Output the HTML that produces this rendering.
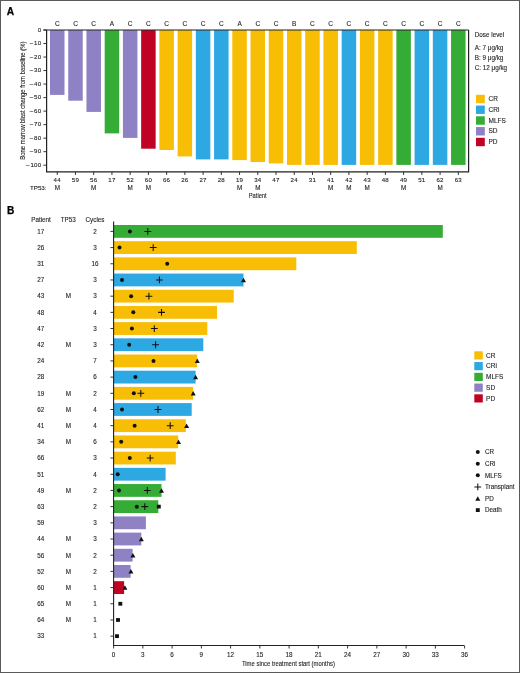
<!DOCTYPE html>
<html><head><meta charset="utf-8"><style>
html,body{margin:0;padding:0;background:#fff;}
body{width:520px;height:673px;overflow:hidden;position:relative;}
svg{display:block;position:absolute;left:0;top:0;will-change:transform;}
text{font-family:"Liberation Sans", sans-serif;stroke:#262626;stroke-width:0.12px;}
.fr{position:absolute;left:0;top:0;width:518px;height:671px;border:1px solid #5a5a5a;}
</style></head><body>
<svg width="520" height="673" viewBox="0 0 520 673">
<rect x="50.00" y="30.00" width="14.5" height="64.90" fill="#8F82C4"/>
<text x="57.25" y="26.00" font-size="6.5" text-anchor="middle" fill="#262626" >C</text>
<text x="57.25" y="182.20" font-size="6.1" text-anchor="middle" fill="#262626" letter-spacing="0.25">44</text>
<text x="57.25" y="190.10" font-size="6.3" text-anchor="middle" fill="#262626" >M</text>
<line x1="57.25" y1="171.8" x2="57.25" y2="175.0" stroke="#222" stroke-width="0.9"/>
<rect x="68.23" y="30.00" width="14.5" height="70.70" fill="#8F82C4"/>
<text x="75.48" y="26.00" font-size="6.5" text-anchor="middle" fill="#262626" >C</text>
<text x="75.48" y="182.20" font-size="6.1" text-anchor="middle" fill="#262626" letter-spacing="0.25">59</text>
<line x1="75.48" y1="171.8" x2="75.48" y2="175.0" stroke="#222" stroke-width="0.9"/>
<rect x="86.46" y="30.00" width="14.5" height="81.90" fill="#8F82C4"/>
<text x="93.71" y="26.00" font-size="6.5" text-anchor="middle" fill="#262626" >C</text>
<text x="93.71" y="182.20" font-size="6.1" text-anchor="middle" fill="#262626" letter-spacing="0.25">56</text>
<text x="93.71" y="190.10" font-size="6.3" text-anchor="middle" fill="#262626" >M</text>
<line x1="93.71" y1="171.8" x2="93.71" y2="175.0" stroke="#222" stroke-width="0.9"/>
<rect x="104.69" y="30.00" width="14.5" height="103.40" fill="#35AC35"/>
<text x="111.94" y="26.00" font-size="6.5" text-anchor="middle" fill="#262626" >A</text>
<text x="111.94" y="182.20" font-size="6.1" text-anchor="middle" fill="#262626" letter-spacing="0.25">17</text>
<line x1="111.94" y1="171.8" x2="111.94" y2="175.0" stroke="#222" stroke-width="0.9"/>
<rect x="122.92" y="30.00" width="14.5" height="107.90" fill="#8F82C4"/>
<text x="130.17" y="26.00" font-size="6.5" text-anchor="middle" fill="#262626" >C</text>
<text x="130.17" y="182.20" font-size="6.1" text-anchor="middle" fill="#262626" letter-spacing="0.25">52</text>
<text x="130.17" y="190.10" font-size="6.3" text-anchor="middle" fill="#262626" >M</text>
<line x1="130.17" y1="171.8" x2="130.17" y2="175.0" stroke="#222" stroke-width="0.9"/>
<rect x="141.15" y="30.00" width="14.5" height="118.70" fill="#C00224"/>
<text x="148.40" y="26.00" font-size="6.5" text-anchor="middle" fill="#262626" >C</text>
<text x="148.40" y="182.20" font-size="6.1" text-anchor="middle" fill="#262626" letter-spacing="0.25">60</text>
<text x="148.40" y="190.10" font-size="6.3" text-anchor="middle" fill="#262626" >M</text>
<line x1="148.40" y1="171.8" x2="148.40" y2="175.0" stroke="#222" stroke-width="0.9"/>
<rect x="159.38" y="30.00" width="14.5" height="120.00" fill="#F8BD05"/>
<text x="166.63" y="26.00" font-size="6.5" text-anchor="middle" fill="#262626" >C</text>
<text x="166.63" y="182.20" font-size="6.1" text-anchor="middle" fill="#262626" letter-spacing="0.25">66</text>
<line x1="166.63" y1="171.8" x2="166.63" y2="175.0" stroke="#222" stroke-width="0.9"/>
<rect x="177.61" y="30.00" width="14.5" height="126.40" fill="#F8BD05"/>
<text x="184.86" y="26.00" font-size="6.5" text-anchor="middle" fill="#262626" >C</text>
<text x="184.86" y="182.20" font-size="6.1" text-anchor="middle" fill="#262626" letter-spacing="0.25">26</text>
<line x1="184.86" y1="171.8" x2="184.86" y2="175.0" stroke="#222" stroke-width="0.9"/>
<rect x="195.84" y="30.00" width="14.5" height="129.40" fill="#2EA8E2"/>
<text x="203.09" y="26.00" font-size="6.5" text-anchor="middle" fill="#262626" >C</text>
<text x="203.09" y="182.20" font-size="6.1" text-anchor="middle" fill="#262626" letter-spacing="0.25">27</text>
<line x1="203.09" y1="171.8" x2="203.09" y2="175.0" stroke="#222" stroke-width="0.9"/>
<rect x="214.07" y="30.00" width="14.5" height="129.40" fill="#2EA8E2"/>
<text x="221.32" y="26.00" font-size="6.5" text-anchor="middle" fill="#262626" >C</text>
<text x="221.32" y="182.20" font-size="6.1" text-anchor="middle" fill="#262626" letter-spacing="0.25">28</text>
<line x1="221.32" y1="171.8" x2="221.32" y2="175.0" stroke="#222" stroke-width="0.9"/>
<rect x="232.30" y="30.00" width="14.5" height="130.10" fill="#F8BD05"/>
<text x="239.55" y="26.00" font-size="6.5" text-anchor="middle" fill="#262626" >A</text>
<text x="239.55" y="182.20" font-size="6.1" text-anchor="middle" fill="#262626" letter-spacing="0.25">19</text>
<text x="239.55" y="190.10" font-size="6.3" text-anchor="middle" fill="#262626" >M</text>
<line x1="239.55" y1="171.8" x2="239.55" y2="175.0" stroke="#222" stroke-width="0.9"/>
<rect x="250.53" y="30.00" width="14.5" height="132.00" fill="#F8BD05"/>
<text x="257.78" y="26.00" font-size="6.5" text-anchor="middle" fill="#262626" >C</text>
<text x="257.78" y="182.20" font-size="6.1" text-anchor="middle" fill="#262626" letter-spacing="0.25">34</text>
<text x="257.78" y="190.10" font-size="6.3" text-anchor="middle" fill="#262626" >M</text>
<line x1="257.78" y1="171.8" x2="257.78" y2="175.0" stroke="#222" stroke-width="0.9"/>
<rect x="268.76" y="30.00" width="14.5" height="133.40" fill="#F8BD05"/>
<text x="276.01" y="26.00" font-size="6.5" text-anchor="middle" fill="#262626" >C</text>
<text x="276.01" y="182.20" font-size="6.1" text-anchor="middle" fill="#262626" letter-spacing="0.25">47</text>
<line x1="276.01" y1="171.8" x2="276.01" y2="175.0" stroke="#222" stroke-width="0.9"/>
<rect x="286.99" y="30.00" width="14.5" height="134.90" fill="#F8BD05"/>
<text x="294.24" y="26.00" font-size="6.5" text-anchor="middle" fill="#262626" >B</text>
<text x="294.24" y="182.20" font-size="6.1" text-anchor="middle" fill="#262626" letter-spacing="0.25">24</text>
<line x1="294.24" y1="171.8" x2="294.24" y2="175.0" stroke="#222" stroke-width="0.9"/>
<rect x="305.22" y="30.00" width="14.5" height="134.90" fill="#F8BD05"/>
<text x="312.47" y="26.00" font-size="6.5" text-anchor="middle" fill="#262626" >C</text>
<text x="312.47" y="182.20" font-size="6.1" text-anchor="middle" fill="#262626" letter-spacing="0.25">31</text>
<line x1="312.47" y1="171.8" x2="312.47" y2="175.0" stroke="#222" stroke-width="0.9"/>
<rect x="323.45" y="30.00" width="14.5" height="134.90" fill="#F8BD05"/>
<text x="330.70" y="26.00" font-size="6.5" text-anchor="middle" fill="#262626" >C</text>
<text x="330.70" y="182.20" font-size="6.1" text-anchor="middle" fill="#262626" letter-spacing="0.25">41</text>
<text x="330.70" y="190.10" font-size="6.3" text-anchor="middle" fill="#262626" >M</text>
<line x1="330.70" y1="171.8" x2="330.70" y2="175.0" stroke="#222" stroke-width="0.9"/>
<rect x="341.68" y="30.00" width="14.5" height="134.90" fill="#2EA8E2"/>
<text x="348.93" y="26.00" font-size="6.5" text-anchor="middle" fill="#262626" >C</text>
<text x="348.93" y="182.20" font-size="6.1" text-anchor="middle" fill="#262626" letter-spacing="0.25">42</text>
<text x="348.93" y="190.10" font-size="6.3" text-anchor="middle" fill="#262626" >M</text>
<line x1="348.93" y1="171.8" x2="348.93" y2="175.0" stroke="#222" stroke-width="0.9"/>
<rect x="359.91" y="30.00" width="14.5" height="134.90" fill="#F8BD05"/>
<text x="367.16" y="26.00" font-size="6.5" text-anchor="middle" fill="#262626" >C</text>
<text x="367.16" y="182.20" font-size="6.1" text-anchor="middle" fill="#262626" letter-spacing="0.25">43</text>
<text x="367.16" y="190.10" font-size="6.3" text-anchor="middle" fill="#262626" >M</text>
<line x1="367.16" y1="171.8" x2="367.16" y2="175.0" stroke="#222" stroke-width="0.9"/>
<rect x="378.14" y="30.00" width="14.5" height="134.90" fill="#F8BD05"/>
<text x="385.39" y="26.00" font-size="6.5" text-anchor="middle" fill="#262626" >C</text>
<text x="385.39" y="182.20" font-size="6.1" text-anchor="middle" fill="#262626" letter-spacing="0.25">48</text>
<line x1="385.39" y1="171.8" x2="385.39" y2="175.0" stroke="#222" stroke-width="0.9"/>
<rect x="396.37" y="30.00" width="14.5" height="134.90" fill="#35AC35"/>
<text x="403.62" y="26.00" font-size="6.5" text-anchor="middle" fill="#262626" >C</text>
<text x="403.62" y="182.20" font-size="6.1" text-anchor="middle" fill="#262626" letter-spacing="0.25">49</text>
<text x="403.62" y="190.10" font-size="6.3" text-anchor="middle" fill="#262626" >M</text>
<line x1="403.62" y1="171.8" x2="403.62" y2="175.0" stroke="#222" stroke-width="0.9"/>
<rect x="414.60" y="30.00" width="14.5" height="134.90" fill="#2EA8E2"/>
<text x="421.85" y="26.00" font-size="6.5" text-anchor="middle" fill="#262626" >C</text>
<text x="421.85" y="182.20" font-size="6.1" text-anchor="middle" fill="#262626" letter-spacing="0.25">51</text>
<line x1="421.85" y1="171.8" x2="421.85" y2="175.0" stroke="#222" stroke-width="0.9"/>
<rect x="432.83" y="30.00" width="14.5" height="134.90" fill="#2EA8E2"/>
<text x="440.08" y="26.00" font-size="6.5" text-anchor="middle" fill="#262626" >C</text>
<text x="440.08" y="182.20" font-size="6.1" text-anchor="middle" fill="#262626" letter-spacing="0.25">62</text>
<text x="440.08" y="190.10" font-size="6.3" text-anchor="middle" fill="#262626" >M</text>
<line x1="440.08" y1="171.8" x2="440.08" y2="175.0" stroke="#222" stroke-width="0.9"/>
<rect x="451.06" y="30.00" width="14.5" height="134.90" fill="#35AC35"/>
<text x="458.31" y="26.00" font-size="6.5" text-anchor="middle" fill="#262626" >C</text>
<text x="458.31" y="182.20" font-size="6.1" text-anchor="middle" fill="#262626" letter-spacing="0.25">63</text>
<line x1="458.31" y1="171.8" x2="458.31" y2="175.0" stroke="#222" stroke-width="0.9"/>
<line x1="43.4" y1="30.0" x2="468.6" y2="30.0" stroke="#222" stroke-width="1.2"/>
<polyline points="46.6,30.0 46.6,171.8 468.6,171.8 468.6,30.0" fill="none" stroke="#222" stroke-width="1.2"/>
<line x1="43.40" y1="30.00" x2="46.6" y2="30.00" stroke="#222" stroke-width="0.9"/>
<text x="41.30" y="31.70" font-size="6.1" text-anchor="end" fill="#262626" letter-spacing="0.25">0</text>
<line x1="43.40" y1="43.52" x2="46.6" y2="43.52" stroke="#222" stroke-width="0.9"/>
<text x="41.30" y="45.22" font-size="6.1" text-anchor="end" fill="#262626" letter-spacing="0.25">–<tspan dx="0.7">10</tspan></text>
<line x1="43.40" y1="57.04" x2="46.6" y2="57.04" stroke="#222" stroke-width="0.9"/>
<text x="41.30" y="58.74" font-size="6.1" text-anchor="end" fill="#262626" letter-spacing="0.25">–<tspan dx="0.7">20</tspan></text>
<line x1="43.40" y1="70.56" x2="46.6" y2="70.56" stroke="#222" stroke-width="0.9"/>
<text x="41.30" y="72.26" font-size="6.1" text-anchor="end" fill="#262626" letter-spacing="0.25">–<tspan dx="0.7">30</tspan></text>
<line x1="43.40" y1="84.08" x2="46.6" y2="84.08" stroke="#222" stroke-width="0.9"/>
<text x="41.30" y="85.78" font-size="6.1" text-anchor="end" fill="#262626" letter-spacing="0.25">–<tspan dx="0.7">40</tspan></text>
<line x1="43.40" y1="97.60" x2="46.6" y2="97.60" stroke="#222" stroke-width="0.9"/>
<text x="41.30" y="99.30" font-size="6.1" text-anchor="end" fill="#262626" letter-spacing="0.25">–<tspan dx="0.7">50</tspan></text>
<line x1="43.40" y1="111.12" x2="46.6" y2="111.12" stroke="#222" stroke-width="0.9"/>
<text x="41.30" y="112.82" font-size="6.1" text-anchor="end" fill="#262626" letter-spacing="0.25">–<tspan dx="0.7">60</tspan></text>
<line x1="43.40" y1="124.64" x2="46.6" y2="124.64" stroke="#222" stroke-width="0.9"/>
<text x="41.30" y="126.34" font-size="6.1" text-anchor="end" fill="#262626" letter-spacing="0.25">–<tspan dx="0.7">70</tspan></text>
<line x1="43.40" y1="138.16" x2="46.6" y2="138.16" stroke="#222" stroke-width="0.9"/>
<text x="41.30" y="139.86" font-size="6.1" text-anchor="end" fill="#262626" letter-spacing="0.25">–<tspan dx="0.7">80</tspan></text>
<line x1="43.40" y1="151.68" x2="46.6" y2="151.68" stroke="#222" stroke-width="0.9"/>
<text x="41.30" y="153.38" font-size="6.1" text-anchor="end" fill="#262626" letter-spacing="0.25">–<tspan dx="0.7">90</tspan></text>
<line x1="43.40" y1="165.20" x2="46.6" y2="165.20" stroke="#222" stroke-width="0.9"/>
<text x="41.30" y="166.90" font-size="6.1" text-anchor="end" fill="#262626" letter-spacing="0.25">–<tspan dx="0.7">100</tspan></text>
<text transform="translate(24.6,100.6) rotate(-90) scale(0.74,1)" font-size="8" text-anchor="middle" fill="#262626">Bone marrow blast change from baseline (%)</text>
<text x="46.50" y="190.20" font-size="6.2" text-anchor="end" fill="#262626" >TP53:</text>
<text transform="translate(257.7,198.3) scale(0.78,1)" font-size="7.4" text-anchor="middle" fill="#262626">Patient</text>
<text x="474.80" y="36.70" font-size="6.3" text-anchor="start" fill="#262626" >Dose level</text>
<text x="474.80" y="49.50" font-size="6.3" text-anchor="start" fill="#262626" >A: 7 μg/kg</text>
<text x="474.80" y="59.50" font-size="6.3" text-anchor="start" fill="#262626" >B: 9 μg/kg</text>
<text x="474.80" y="69.50" font-size="6.3" text-anchor="start" fill="#262626" >C: 12 μg/kg</text>
<rect x="476" y="94.80" width="8.8" height="8.4" fill="#F8BD05"/>
<text x="488.50" y="101.20" font-size="6.5" text-anchor="start" fill="#262626" >CR</text>
<rect x="476" y="105.55" width="8.8" height="8.4" fill="#2EA8E2"/>
<text x="488.50" y="111.95" font-size="6.5" text-anchor="start" fill="#262626" >CRi</text>
<rect x="476" y="116.30" width="8.8" height="8.4" fill="#35AC35"/>
<text x="488.50" y="122.70" font-size="6.5" text-anchor="start" fill="#262626" >MLFS</text>
<rect x="476" y="127.05" width="8.8" height="8.4" fill="#8F82C4"/>
<text x="488.50" y="133.45" font-size="6.5" text-anchor="start" fill="#262626" >SD</text>
<rect x="476" y="137.80" width="8.8" height="8.4" fill="#C00224"/>
<text x="488.50" y="144.20" font-size="6.5" text-anchor="start" fill="#262626" >PD</text>
<text x="6.7" y="14.5" font-size="10.2" font-weight="bold" style="fill:#000;stroke:#000;stroke-width:0.25px">A</text>
<text x="6.9" y="214.3" font-size="10.2" font-weight="bold" style="fill:#000;stroke:#000;stroke-width:0.25px">B</text>
<rect x="113.60" y="225.00" width="329.20" height="12.8" fill="#35AC35"/>
<circle cx="129.90" cy="231.40" r="2.0" fill="#111"/>
<path d="M144.40 231.40H151.20M147.80 228.00V234.80" stroke="#111" stroke-width="1.05" fill="none"/>
<text x="40.80" y="233.70" font-size="6.3" text-anchor="middle" fill="#262626" >17</text>
<text x="95.00" y="233.70" font-size="6.3" text-anchor="middle" fill="#262626" >2</text>
<line x1="110.40" y1="231.40" x2="113.6" y2="231.40" stroke="#222" stroke-width="0.9"/>
<rect x="113.60" y="241.19" width="243.20" height="12.8" fill="#F8BD05"/>
<circle cx="119.50" cy="247.59" r="2.0" fill="#111"/>
<path d="M149.80 247.59H156.60M153.20 244.19V250.99" stroke="#111" stroke-width="1.05" fill="none"/>
<text x="40.80" y="249.89" font-size="6.3" text-anchor="middle" fill="#262626" >26</text>
<text x="95.00" y="249.89" font-size="6.3" text-anchor="middle" fill="#262626" >3</text>
<line x1="110.40" y1="247.59" x2="113.6" y2="247.59" stroke="#222" stroke-width="0.9"/>
<rect x="113.60" y="257.38" width="182.70" height="12.8" fill="#F8BD05"/>
<circle cx="167.20" cy="263.78" r="2.0" fill="#111"/>
<text x="40.80" y="266.08" font-size="6.3" text-anchor="middle" fill="#262626" >31</text>
<text x="95.00" y="266.08" font-size="6.3" text-anchor="middle" fill="#262626" >16</text>
<line x1="110.40" y1="263.78" x2="113.6" y2="263.78" stroke="#222" stroke-width="0.9"/>
<rect x="113.60" y="273.57" width="129.90" height="12.8" fill="#2EA8E2"/>
<circle cx="122.00" cy="279.97" r="2.0" fill="#111"/>
<path d="M156.00 279.97H162.80M159.40 276.57V283.37" stroke="#111" stroke-width="1.05" fill="none"/>
<path d="M241.00 282.17L243.50 277.67L246.00 282.17Z" fill="#111"/>
<text x="40.80" y="282.27" font-size="6.3" text-anchor="middle" fill="#262626" >27</text>
<text x="95.00" y="282.27" font-size="6.3" text-anchor="middle" fill="#262626" >3</text>
<line x1="110.40" y1="279.97" x2="113.6" y2="279.97" stroke="#222" stroke-width="0.9"/>
<rect x="113.60" y="289.76" width="120.10" height="12.8" fill="#F8BD05"/>
<circle cx="131.10" cy="296.16" r="2.0" fill="#111"/>
<path d="M145.50 296.16H152.30M148.90 292.76V299.56" stroke="#111" stroke-width="1.05" fill="none"/>
<text x="40.80" y="298.46" font-size="6.3" text-anchor="middle" fill="#262626" >43</text>
<text x="68.40" y="298.46" font-size="6.3" text-anchor="middle" fill="#262626" >M</text>
<text x="95.00" y="298.46" font-size="6.3" text-anchor="middle" fill="#262626" >3</text>
<line x1="110.40" y1="296.16" x2="113.6" y2="296.16" stroke="#222" stroke-width="0.9"/>
<rect x="113.60" y="305.95" width="103.40" height="12.8" fill="#F8BD05"/>
<circle cx="133.30" cy="312.35" r="2.0" fill="#111"/>
<path d="M158.10 312.35H164.90M161.50 308.95V315.75" stroke="#111" stroke-width="1.05" fill="none"/>
<text x="40.80" y="314.65" font-size="6.3" text-anchor="middle" fill="#262626" >48</text>
<text x="95.00" y="314.65" font-size="6.3" text-anchor="middle" fill="#262626" >4</text>
<line x1="110.40" y1="312.35" x2="113.6" y2="312.35" stroke="#222" stroke-width="0.9"/>
<rect x="113.60" y="322.14" width="93.70" height="12.8" fill="#F8BD05"/>
<circle cx="131.90" cy="328.54" r="2.0" fill="#111"/>
<path d="M150.90 328.54H157.70M154.30 325.14V331.94" stroke="#111" stroke-width="1.05" fill="none"/>
<text x="40.80" y="330.84" font-size="6.3" text-anchor="middle" fill="#262626" >47</text>
<text x="95.00" y="330.84" font-size="6.3" text-anchor="middle" fill="#262626" >3</text>
<line x1="110.40" y1="328.54" x2="113.6" y2="328.54" stroke="#222" stroke-width="0.9"/>
<rect x="113.60" y="338.33" width="89.70" height="12.8" fill="#2EA8E2"/>
<circle cx="129.20" cy="344.73" r="2.0" fill="#111"/>
<path d="M152.20 344.73H159.00M155.60 341.33V348.13" stroke="#111" stroke-width="1.05" fill="none"/>
<text x="40.80" y="347.03" font-size="6.3" text-anchor="middle" fill="#262626" >42</text>
<text x="68.40" y="347.03" font-size="6.3" text-anchor="middle" fill="#262626" >M</text>
<text x="95.00" y="347.03" font-size="6.3" text-anchor="middle" fill="#262626" >3</text>
<line x1="110.40" y1="344.73" x2="113.6" y2="344.73" stroke="#222" stroke-width="0.9"/>
<rect x="113.60" y="354.52" width="83.50" height="12.8" fill="#F8BD05"/>
<circle cx="153.50" cy="360.92" r="2.0" fill="#111"/>
<path d="M194.80 363.12L197.30 358.62L199.80 363.12Z" fill="#111"/>
<text x="40.80" y="363.22" font-size="6.3" text-anchor="middle" fill="#262626" >24</text>
<text x="95.00" y="363.22" font-size="6.3" text-anchor="middle" fill="#262626" >7</text>
<line x1="110.40" y1="360.92" x2="113.6" y2="360.92" stroke="#222" stroke-width="0.9"/>
<rect x="113.60" y="370.71" width="82.00" height="12.8" fill="#2EA8E2"/>
<circle cx="135.40" cy="377.11" r="2.0" fill="#111"/>
<path d="M193.10 379.31L195.60 374.81L198.10 379.31Z" fill="#111"/>
<text x="40.80" y="379.41" font-size="6.3" text-anchor="middle" fill="#262626" >28</text>
<text x="95.00" y="379.41" font-size="6.3" text-anchor="middle" fill="#262626" >6</text>
<line x1="110.40" y1="377.11" x2="113.6" y2="377.11" stroke="#222" stroke-width="0.9"/>
<rect x="113.60" y="386.90" width="79.40" height="12.8" fill="#F8BD05"/>
<circle cx="133.80" cy="393.30" r="2.0" fill="#111"/>
<path d="M137.40 393.30H144.20M140.80 389.90V396.70" stroke="#111" stroke-width="1.05" fill="none"/>
<path d="M190.70 395.50L193.20 391.00L195.70 395.50Z" fill="#111"/>
<text x="40.80" y="395.60" font-size="6.3" text-anchor="middle" fill="#262626" >19</text>
<text x="68.40" y="395.60" font-size="6.3" text-anchor="middle" fill="#262626" >M</text>
<text x="95.00" y="395.60" font-size="6.3" text-anchor="middle" fill="#262626" >2</text>
<line x1="110.40" y1="393.30" x2="113.6" y2="393.30" stroke="#222" stroke-width="0.9"/>
<rect x="113.60" y="403.09" width="78.10" height="12.8" fill="#2EA8E2"/>
<circle cx="122.00" cy="409.49" r="2.0" fill="#111"/>
<path d="M154.60 409.49H161.40M158.00 406.09V412.89" stroke="#111" stroke-width="1.05" fill="none"/>
<text x="40.80" y="411.79" font-size="6.3" text-anchor="middle" fill="#262626" >62</text>
<text x="68.40" y="411.79" font-size="6.3" text-anchor="middle" fill="#262626" >M</text>
<text x="95.00" y="411.79" font-size="6.3" text-anchor="middle" fill="#262626" >4</text>
<line x1="110.40" y1="409.49" x2="113.6" y2="409.49" stroke="#222" stroke-width="0.9"/>
<rect x="113.60" y="419.28" width="72.20" height="12.8" fill="#F8BD05"/>
<circle cx="134.60" cy="425.68" r="2.0" fill="#111"/>
<path d="M166.80 425.68H173.60M170.20 422.28V429.08" stroke="#111" stroke-width="1.05" fill="none"/>
<path d="M184.10 427.88L186.60 423.38L189.10 427.88Z" fill="#111"/>
<text x="40.80" y="427.98" font-size="6.3" text-anchor="middle" fill="#262626" >41</text>
<text x="68.40" y="427.98" font-size="6.3" text-anchor="middle" fill="#262626" >M</text>
<text x="95.00" y="427.98" font-size="6.3" text-anchor="middle" fill="#262626" >4</text>
<line x1="110.40" y1="425.68" x2="113.6" y2="425.68" stroke="#222" stroke-width="0.9"/>
<rect x="113.60" y="435.47" width="64.60" height="12.8" fill="#F8BD05"/>
<circle cx="121.20" cy="441.87" r="2.0" fill="#111"/>
<path d="M176.00 444.07L178.50 439.57L181.00 444.07Z" fill="#111"/>
<text x="40.80" y="444.17" font-size="6.3" text-anchor="middle" fill="#262626" >34</text>
<text x="68.40" y="444.17" font-size="6.3" text-anchor="middle" fill="#262626" >M</text>
<text x="95.00" y="444.17" font-size="6.3" text-anchor="middle" fill="#262626" >6</text>
<line x1="110.40" y1="441.87" x2="113.6" y2="441.87" stroke="#222" stroke-width="0.9"/>
<rect x="113.60" y="451.66" width="62.20" height="12.8" fill="#F8BD05"/>
<circle cx="129.80" cy="458.06" r="2.0" fill="#111"/>
<path d="M146.80 458.06H153.60M150.20 454.66V461.46" stroke="#111" stroke-width="1.05" fill="none"/>
<text x="40.80" y="460.36" font-size="6.3" text-anchor="middle" fill="#262626" >66</text>
<text x="95.00" y="460.36" font-size="6.3" text-anchor="middle" fill="#262626" >3</text>
<line x1="110.40" y1="458.06" x2="113.6" y2="458.06" stroke="#222" stroke-width="0.9"/>
<rect x="113.60" y="467.85" width="52.00" height="12.8" fill="#2EA8E2"/>
<circle cx="117.70" cy="474.25" r="2.0" fill="#111"/>
<text x="40.80" y="476.55" font-size="6.3" text-anchor="middle" fill="#262626" >51</text>
<text x="95.00" y="476.55" font-size="6.3" text-anchor="middle" fill="#262626" >4</text>
<line x1="110.40" y1="474.25" x2="113.6" y2="474.25" stroke="#222" stroke-width="0.9"/>
<rect x="113.60" y="484.04" width="47.90" height="12.8" fill="#35AC35"/>
<circle cx="119.00" cy="490.44" r="2.0" fill="#111"/>
<path d="M143.90 490.44H150.70M147.30 487.04V493.84" stroke="#111" stroke-width="1.05" fill="none"/>
<path d="M159.00 492.64L161.50 488.14L164.00 492.64Z" fill="#111"/>
<text x="40.80" y="492.74" font-size="6.3" text-anchor="middle" fill="#262626" >49</text>
<text x="68.40" y="492.74" font-size="6.3" text-anchor="middle" fill="#262626" >M</text>
<text x="95.00" y="492.74" font-size="6.3" text-anchor="middle" fill="#262626" >2</text>
<line x1="110.40" y1="490.44" x2="113.6" y2="490.44" stroke="#222" stroke-width="0.9"/>
<rect x="113.60" y="500.23" width="44.70" height="12.8" fill="#35AC35"/>
<circle cx="136.80" cy="506.63" r="2.0" fill="#111"/>
<path d="M141.40 506.63H148.20M144.80 503.23V510.03" stroke="#111" stroke-width="1.05" fill="none"/>
<rect x="156.85" y="504.73" width="3.9" height="3.8" fill="#111"/>
<text x="40.80" y="508.93" font-size="6.3" text-anchor="middle" fill="#262626" >63</text>
<text x="95.00" y="508.93" font-size="6.3" text-anchor="middle" fill="#262626" >2</text>
<line x1="110.40" y1="506.63" x2="113.6" y2="506.63" stroke="#222" stroke-width="0.9"/>
<rect x="113.60" y="516.42" width="32.30" height="12.8" fill="#8F82C4"/>
<text x="40.80" y="525.12" font-size="6.3" text-anchor="middle" fill="#262626" >59</text>
<text x="95.00" y="525.12" font-size="6.3" text-anchor="middle" fill="#262626" >3</text>
<line x1="110.40" y1="522.82" x2="113.6" y2="522.82" stroke="#222" stroke-width="0.9"/>
<rect x="113.60" y="532.61" width="27.70" height="12.8" fill="#8F82C4"/>
<path d="M138.80 541.21L141.30 536.71L143.80 541.21Z" fill="#111"/>
<text x="40.80" y="541.31" font-size="6.3" text-anchor="middle" fill="#262626" >44</text>
<text x="68.40" y="541.31" font-size="6.3" text-anchor="middle" fill="#262626" >M</text>
<text x="95.00" y="541.31" font-size="6.3" text-anchor="middle" fill="#262626" >3</text>
<line x1="110.40" y1="539.01" x2="113.6" y2="539.01" stroke="#222" stroke-width="0.9"/>
<rect x="113.60" y="548.80" width="19.00" height="12.8" fill="#8F82C4"/>
<path d="M130.40 557.40L132.90 552.90L135.40 557.40Z" fill="#111"/>
<text x="40.80" y="557.50" font-size="6.3" text-anchor="middle" fill="#262626" >56</text>
<text x="68.40" y="557.50" font-size="6.3" text-anchor="middle" fill="#262626" >M</text>
<text x="95.00" y="557.50" font-size="6.3" text-anchor="middle" fill="#262626" >2</text>
<line x1="110.40" y1="555.20" x2="113.6" y2="555.20" stroke="#222" stroke-width="0.9"/>
<rect x="113.60" y="564.99" width="17.00" height="12.8" fill="#8F82C4"/>
<path d="M128.40 573.59L130.90 569.09L133.40 573.59Z" fill="#111"/>
<text x="40.80" y="573.69" font-size="6.3" text-anchor="middle" fill="#262626" >52</text>
<text x="68.40" y="573.69" font-size="6.3" text-anchor="middle" fill="#262626" >M</text>
<text x="95.00" y="573.69" font-size="6.3" text-anchor="middle" fill="#262626" >2</text>
<line x1="110.40" y1="571.39" x2="113.6" y2="571.39" stroke="#222" stroke-width="0.9"/>
<rect x="113.60" y="581.18" width="10.50" height="12.8" fill="#C00224"/>
<path d="M122.40 589.78L124.90 585.28L127.40 589.78Z" fill="#111"/>
<text x="40.80" y="589.88" font-size="6.3" text-anchor="middle" fill="#262626" >60</text>
<text x="68.40" y="589.88" font-size="6.3" text-anchor="middle" fill="#262626" >M</text>
<text x="95.00" y="589.88" font-size="6.3" text-anchor="middle" fill="#262626" >1</text>
<line x1="110.40" y1="587.58" x2="113.6" y2="587.58" stroke="#222" stroke-width="0.9"/>
<rect x="118.35" y="601.87" width="3.9" height="3.8" fill="#111"/>
<text x="40.80" y="606.07" font-size="6.3" text-anchor="middle" fill="#262626" >65</text>
<text x="68.40" y="606.07" font-size="6.3" text-anchor="middle" fill="#262626" >M</text>
<text x="95.00" y="606.07" font-size="6.3" text-anchor="middle" fill="#262626" >1</text>
<line x1="110.40" y1="603.77" x2="113.6" y2="603.77" stroke="#222" stroke-width="0.9"/>
<rect x="116.05" y="618.06" width="3.9" height="3.8" fill="#111"/>
<text x="40.80" y="622.26" font-size="6.3" text-anchor="middle" fill="#262626" >64</text>
<text x="68.40" y="622.26" font-size="6.3" text-anchor="middle" fill="#262626" >M</text>
<text x="95.00" y="622.26" font-size="6.3" text-anchor="middle" fill="#262626" >1</text>
<line x1="110.40" y1="619.96" x2="113.6" y2="619.96" stroke="#222" stroke-width="0.9"/>
<rect x="115.05" y="634.25" width="3.9" height="3.8" fill="#111"/>
<text x="40.80" y="638.45" font-size="6.3" text-anchor="middle" fill="#262626" >33</text>
<text x="95.00" y="638.45" font-size="6.3" text-anchor="middle" fill="#262626" >1</text>
<line x1="110.40" y1="636.15" x2="113.6" y2="636.15" stroke="#222" stroke-width="0.9"/>
<text x="41.00" y="221.90" font-size="6.3" text-anchor="middle" fill="#262626" >Patient</text>
<text x="68.30" y="221.90" font-size="6.3" text-anchor="middle" fill="#262626" >TP53</text>
<text x="95.00" y="221.90" font-size="6.3" text-anchor="middle" fill="#262626" >Cycles</text>
<polyline points="113.6,221.4 113.6,645.5 464.3,645.5" fill="none" stroke="#222" stroke-width="1.1"/>
<line x1="113.60" y1="645.5" x2="113.60" y2="648.5" stroke="#222" stroke-width="0.9"/>
<text x="113.60" y="656.50" font-size="6.3" text-anchor="middle" fill="#262626" >0</text>
<line x1="142.85" y1="645.5" x2="142.85" y2="648.5" stroke="#222" stroke-width="0.9"/>
<text x="142.85" y="656.50" font-size="6.3" text-anchor="middle" fill="#262626" >3</text>
<line x1="172.10" y1="645.5" x2="172.10" y2="648.5" stroke="#222" stroke-width="0.9"/>
<text x="172.10" y="656.50" font-size="6.3" text-anchor="middle" fill="#262626" >6</text>
<line x1="201.35" y1="645.5" x2="201.35" y2="648.5" stroke="#222" stroke-width="0.9"/>
<text x="201.35" y="656.50" font-size="6.3" text-anchor="middle" fill="#262626" >9</text>
<line x1="230.60" y1="645.5" x2="230.60" y2="648.5" stroke="#222" stroke-width="0.9"/>
<text x="230.60" y="656.50" font-size="6.3" text-anchor="middle" fill="#262626" >12</text>
<line x1="259.85" y1="645.5" x2="259.85" y2="648.5" stroke="#222" stroke-width="0.9"/>
<text x="259.85" y="656.50" font-size="6.3" text-anchor="middle" fill="#262626" >15</text>
<line x1="289.10" y1="645.5" x2="289.10" y2="648.5" stroke="#222" stroke-width="0.9"/>
<text x="289.10" y="656.50" font-size="6.3" text-anchor="middle" fill="#262626" >18</text>
<line x1="318.35" y1="645.5" x2="318.35" y2="648.5" stroke="#222" stroke-width="0.9"/>
<text x="318.35" y="656.50" font-size="6.3" text-anchor="middle" fill="#262626" >21</text>
<line x1="347.60" y1="645.5" x2="347.60" y2="648.5" stroke="#222" stroke-width="0.9"/>
<text x="347.60" y="656.50" font-size="6.3" text-anchor="middle" fill="#262626" >24</text>
<line x1="376.85" y1="645.5" x2="376.85" y2="648.5" stroke="#222" stroke-width="0.9"/>
<text x="376.85" y="656.50" font-size="6.3" text-anchor="middle" fill="#262626" >27</text>
<line x1="406.10" y1="645.5" x2="406.10" y2="648.5" stroke="#222" stroke-width="0.9"/>
<text x="406.10" y="656.50" font-size="6.3" text-anchor="middle" fill="#262626" >30</text>
<line x1="435.35" y1="645.5" x2="435.35" y2="648.5" stroke="#222" stroke-width="0.9"/>
<text x="435.35" y="656.50" font-size="6.3" text-anchor="middle" fill="#262626" >33</text>
<line x1="464.60" y1="645.5" x2="464.60" y2="648.5" stroke="#222" stroke-width="0.9"/>
<text x="464.60" y="656.50" font-size="6.3" text-anchor="middle" fill="#262626" >36</text>
<text transform="translate(288.4,665.8) scale(0.80,1)" font-size="7.4" text-anchor="middle" fill="#262626">Time since treatment start (months)</text>
<rect x="474.3" y="351.30" width="8.5" height="8.2" fill="#F8BD05"/>
<text x="486.10" y="357.70" font-size="6.5" text-anchor="start" fill="#262626" >CR</text>
<rect x="474.3" y="362.05" width="8.5" height="8.2" fill="#2EA8E2"/>
<text x="486.10" y="368.45" font-size="6.5" text-anchor="start" fill="#262626" >CRi</text>
<rect x="474.3" y="372.80" width="8.5" height="8.2" fill="#35AC35"/>
<text x="486.10" y="379.20" font-size="6.5" text-anchor="start" fill="#262626" >MLFS</text>
<rect x="474.3" y="383.55" width="8.5" height="8.2" fill="#8F82C4"/>
<text x="486.10" y="389.95" font-size="6.5" text-anchor="start" fill="#262626" >SD</text>
<rect x="474.3" y="394.30" width="8.5" height="8.2" fill="#C00224"/>
<text x="486.10" y="400.70" font-size="6.5" text-anchor="start" fill="#262626" >PD</text>
<circle cx="477.80" cy="452.10" r="2.0" fill="#111"/>
<text x="485.00" y="454.40" font-size="6.3" text-anchor="start" fill="#262626" >CR</text>
<circle cx="477.80" cy="463.70" r="2.0" fill="#111"/>
<text x="485.00" y="466.00" font-size="6.3" text-anchor="start" fill="#262626" >CRi</text>
<circle cx="477.80" cy="475.30" r="2.0" fill="#111"/>
<text x="485.00" y="477.60" font-size="6.3" text-anchor="start" fill="#262626" >MLFS</text>
<path d="M474.40 486.90H481.20M477.80 483.50V490.30" stroke="#111" stroke-width="1.05" fill="none"/>
<text x="485.00" y="489.20" font-size="6.3" text-anchor="start" fill="#262626" >Transplant</text>
<path d="M475.30 500.70L477.80 496.20L480.30 500.70Z" fill="#111"/>
<text x="485.00" y="500.80" font-size="6.3" text-anchor="start" fill="#262626" >PD</text>
<rect x="475.85" y="508.20" width="3.9" height="3.8" fill="#111"/>
<text x="485.00" y="512.40" font-size="6.3" text-anchor="start" fill="#262626" >Death</text>
</svg>
<div class="fr"></div>
</body></html>
